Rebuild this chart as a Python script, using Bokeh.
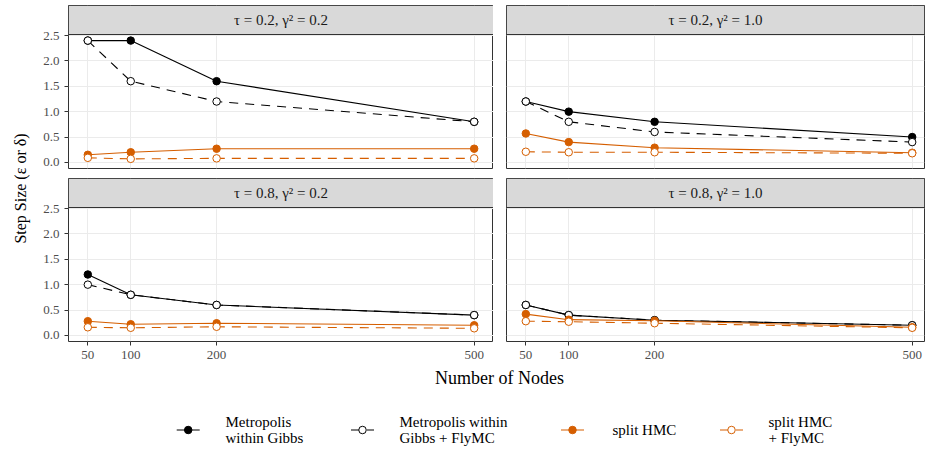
import math
from bokeh.plotting import figure
from bokeh.layouts import row, column
from bokeh.models import Range1d, FixedTicker, PrintfTickFormatter, Grid
from bokeh.core.properties import value
from bokeh.embed import file_html
from bokeh.resources import INLINE

# ---------------- data ----------------
nodes = [50, 100, 200, 500]
panel_titles = ["τ = 0.2, γ² = 0.2", "τ = 0.2, γ² = 1.0",
                "τ = 0.8, γ² = 0.2", "τ = 0.8, γ² = 1.0"]
mwg = [[2.4, 2.4, 1.6, 0.8], [1.2, 1.0, 0.8, 0.5],
       [1.2, 0.8, 0.6, 0.4], [0.6, 0.4, 0.3, 0.2]]
mwg_flymc = [[2.4, 1.6, 1.2, 0.8], [1.2, 0.8, 0.6, 0.4],
             [1.0, 0.8, 0.6, 0.4], [0.6, 0.4, 0.3, 0.2]]
split_hmc = [[0.15, 0.20, 0.27, 0.27], [0.57, 0.40, 0.29, 0.19],
             [0.28, 0.22, 0.24, 0.20], [0.42, 0.31, 0.29, 0.16]]
split_hmc_flymc = [[0.09, 0.07, 0.08, 0.08], [0.21, 0.20, 0.20, 0.18],
                   [0.16, 0.15, 0.17, 0.14], [0.28, 0.27, 0.24, 0.15]]
legend_labels = [["Metropolis", "within Gibbs"], ["Metropolis within", "Gibbs + FlyMC"],
                 ["split HMC"], ["split HMC", "+ FlyMC"]]
x_ticks = [50, 100, 200, 500]
y_ticks = [0.0, 0.5, 1.0, 1.5, 2.0, 2.5]
x_label = "Number of Nodes"
y_label = "Step Size (ε or δ)"

# ---------------- styles ----------------
BLACK = "#000000"
ORANGE = "#D55E00"
DASH = "9 7"
series = [
    (mwg, BLACK, "solid", True),
    (mwg_flymc, BLACK, DASH, False),
    (split_hmc, ORANGE, "solid", True),
    (split_hmc_flymc, ORANGE, DASH, False),
]
FONT = value("Liberation Serif")
SERIF = "Liberation Serif"

X_LO, X_HI = 27.5, 522.5
Y_LO, Y_HI = -0.12, 2.52
DATA_PX = 134
STRIP_PX = 29
LEFT_FRAME_W = 425
RIGHT_FRAME_W = 418
PX_PER_X = LEFT_FRAME_W / (X_HI - X_LO)


def make_panel(i, left_axis, bottom_axis, frame_w, mb_left, mb_right, mb_top, mb_bottom):
    x_end = X_LO + frame_w / PX_PER_X
    px_per_y = DATA_PX / (Y_HI - Y_LO)
    y_top = Y_HI + STRIP_PX / px_per_y
    p = figure(frame_width=frame_w, frame_height=DATA_PX + STRIP_PX,
               x_range=Range1d(X_LO, x_end), y_range=Range1d(Y_LO, y_top),
               output_backend="svg", toolbar_location=None,
               x_axis_location="below" if bottom_axis else None,
               y_axis_location="left" if left_axis else None,
               min_border_left=mb_left, min_border_right=mb_right,
               min_border_top=mb_top, min_border_bottom=mb_bottom,
               background_fill_color="white", border_fill_color="white",
               outline_line_color="#333333", outline_line_width=1)
    p.center = [r for r in p.center if not isinstance(r, Grid)]
    p.add_layout(Grid(dimension=0, ticker=FixedTicker(ticks=x_ticks),
                      grid_line_color="#EBEBEB", grid_line_width=1), "center")
    p.add_layout(Grid(dimension=1, ticker=FixedTicker(ticks=y_ticks),
                      grid_line_color="#EBEBEB", grid_line_width=1), "center")

    # facet strip
    p.quad(left=[X_LO], right=[x_end], bottom=[Y_HI], top=[y_top],
           fill_color="#D9D9D9", line_color="#333333", line_width=1)
    p.text(x=[(X_LO + x_end) / 2], y=[(Y_HI + y_top) / 2], text=[panel_titles[i]],
           text_align="center", text_baseline="middle", text_font=FONT,
           text_font_size="15px", text_color="#1A1A1A")

    for data, color, dash, filled in series:
        p.line(nodes, data[i], line_color=color, line_width=1.1, line_dash=dash)
    for data, color, dash, filled in series:
        p.scatter(nodes, data[i], marker="circle", size=7.5,
                  fill_color=color if filled else "white",
                  line_color=color, line_width=1)

    for ax in p.axis:
        ax.axis_line_color = None
        ax.major_tick_out = 4
        ax.major_tick_in = 0
        ax.minor_tick_out = 0
        ax.minor_tick_in = 0
        ax.major_tick_line_color = "#333333"
        ax.major_label_text_font = SERIF
        ax.major_label_text_font_size = "13px"
        ax.major_label_text_color = "#4D4D4D"
        ax.major_label_standoff = 5
    if left_axis:
        p.yaxis[0].ticker = FixedTicker(ticks=y_ticks)
        p.yaxis[0].formatter = PrintfTickFormatter(format="%.1f")
    if bottom_axis:
        p.xaxis[0].ticker = FixedTicker(ticks=x_ticks)
    return p


p1 = make_panel(0, True, False, LEFT_FRAME_W, 36, 0, 5, 10)
p2 = make_panel(1, False, False, RIGHT_FRAME_W, 13, 1, 5, 10)
p3 = make_panel(2, True, True, LEFT_FRAME_W, 36, 0, 0, 24)
p4 = make_panel(3, False, True, RIGHT_FRAME_W, 13, 1, 0, 24)

# y axis title figure
YL_W, YL_H = 32, 365
ylab = figure(width=YL_W, height=YL_H, x_range=Range1d(0, YL_W), y_range=Range1d(0, YL_H),
              output_backend="svg", toolbar_location=None, x_axis_location=None,
              y_axis_location=None, min_border=0, outline_line_color=None)
ylab.grid.visible = False
ylab.text(x=[20], y=[YL_H - 188], text=[y_label], angle=math.pi / 2,
          text_align="center", text_baseline="middle", text_font=FONT,
          text_font_size="16px", text_color="#000000")

# bottom: x title + legend
LG_W, LG_H = 925, 84
lg = figure(width=LG_W, height=LG_H, x_range=Range1d(0, LG_W), y_range=Range1d(0, LG_H),
            output_backend="svg", toolbar_location=None, x_axis_location=None,
            y_axis_location=None, min_border=0, outline_line_color=None)
lg.grid.visible = False
lg.text(x=[499], y=[LG_H - 12], text=[x_label], text_align="center", text_baseline="middle",
        text_font=FONT, text_font_size="18px", text_color="#000000")

key_x = [187.7, 362, 572, 731]
text_x = [225, 399, 612, 768]
key_y = LG_H - 64.5
for k, (data, color, dash, filled) in enumerate(series):
    lg.line([key_x[k] - 11.5, key_x[k] + 11.5], [key_y, key_y], line_color=color,
            line_width=1.1, line_dash=dash)
    lg.scatter([key_x[k]], [key_y], marker="circle", size=7.5,
               fill_color=color if filled else "white", line_color=color, line_width=1)
    lines = legend_labels[k]
    if len(lines) == 1:
        ys = [key_y]
    else:
        ys = [key_y + 8, key_y - 8]
    lg.text(x=[text_x[k]] * len(lines), y=ys, text=lines, text_align="left",
            text_baseline="middle", text_font=FONT, text_font_size="15px",
            text_color="#000000")

layout = column(row(ylab, column(row(p1, p2), row(p3, p4))), lg)

open("out.html", "w").write(file_html(layout, INLINE))
